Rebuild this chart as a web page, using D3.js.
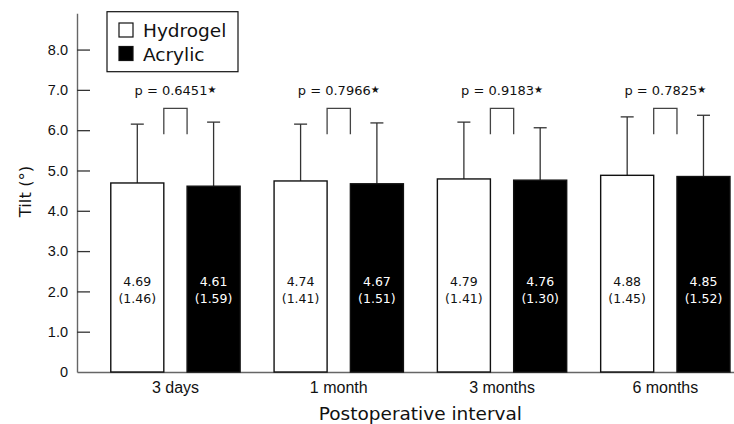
<!DOCTYPE html>
<html>
<head>
<meta charset="utf-8">
<script src="https://cdn.jsdelivr.net/npm/d3@7"></script>
<style>
  html, body { margin: 0; padding: 0; background: #fff; }
  svg { display: block; font-family: "DejaVu Sans", sans-serif; }
  .axis .domain { stroke: #666; stroke-width: 1.4; }
  .axis .tick line { stroke: #333; stroke-width: 1.3; }
  .axis .tick text { fill: #111; }
</style>
</head>
<body>
<svg id="chart" width="734" height="424"></svg>
<script>
// Valores (media y desviación estándar por intervalo)
const intervals = ['3 days', '1 month', '3 months', '6 months'];
const lenses = ['Hydrogel', 'Acrylic'];
const hydrogelMean = [4.69, 4.74, 4.79, 4.88];
const hydrogelSD = [1.46, 1.41, 1.41, 1.45];
const acrylicMean = [4.61, 4.67, 4.76, 4.85];
const acrylicSD = [1.59, 1.51, 1.30, 1.52];
const pValues = ['0.6451', '0.7966', '0.9183', '0.7825'];
const yTicks = [0, 1, 2, 3, 4, 5, 6, 7, 8];

const svg = d3.select('#chart');
const width = 734;
const axisLeftX = 77;
const baseY = 372;

const y = d3.scaleLinear().domain([0, 8.9]).range([baseY, 13.3]);

const x0 = d3.scaleBand()
  .domain(intervals)
  .range([axisLeftX, width])
  .paddingInner(0.208)
  .paddingOuter(0.1157)
  .align(0.894);

const x1 = d3.scaleBand()
  .domain(lenses)
  .range([0, x0.bandwidth()])
  .paddingInner(0.305)
  .paddingOuter(0);

const rows = intervals.map((interval, i) => ({
  interval,
  p: pValues[i],
  bars: [
    { lens: 'Hydrogel', mean: hydrogelMean[i], sd: hydrogelSD[i] },
    { lens: 'Acrylic', mean: acrylicMean[i], sd: acrylicSD[i] }
  ]
}));

const fill = { Hydrogel: '#fff', Acrylic: '#000' };
const labelColor = { Hydrogel: '#111', Acrylic: '#fff' };

// ejes
svg.append('g')
  .attr('class', 'axis')
  .attr('transform', `translate(0,${baseY})`)
  .call(d3.axisBottom(x0).tickSize(0).tickPadding(9))
  .call((g) => g.selectAll('.tick text').attr('font-size', 16).attr('dy', '0.72em'));

svg.append('g')
  .attr('class', 'axis')
  .attr('transform', `translate(${axisLeftX},0)`)
  .call(d3.axisLeft(y).tickValues(yTicks).tickSize(-13).tickSizeOuter(0).tickPadding(9)
    .tickFormat((d) => (d === 0 ? '0' : d3.format('.1f')(d))))
  .call((g) => g.selectAll('.tick text').attr('font-size', 14.5))
  .call((g) => g.selectAll('.tick').filter((d) => d === 0).select('line').remove());

const groups = svg.append('g')
  .selectAll('g.group')
  .data(rows)
  .join('g')
  .attr('class', 'group')
  .attr('transform', (d) => `translate(${x0(d.interval)},0)`);

// barras de desviación (detrás de las barras)
groups.selectAll('g.err')
  .data((d) => d.bars)
  .join('g')
  .attr('class', 'err')
  .each(function (d) {
    const g = d3.select(this);
    const cx = x1(d.lens) + x1.bandwidth() / 2;
    g.append('line')
      .attr('x1', cx).attr('x2', cx)
      .attr('y1', y(d.mean)).attr('y2', y(d.mean + d.sd))
      .attr('stroke', '#333').attr('stroke-width', 1.3);
    g.append('line')
      .attr('x1', cx - 6.5).attr('x2', cx + 6.5)
      .attr('y1', y(d.mean + d.sd)).attr('y2', y(d.mean + d.sd))
      .attr('stroke', '#333').attr('stroke-width', 1.3);
  });

groups.selectAll('rect')
  .data((d) => d.bars)
  .join('rect')
  .attr('x', (d) => x1(d.lens))
  .attr('width', x1.bandwidth())
  .attr('y', (d) => y(d.mean))
  .attr('height', (d) => y(0) - y(d.mean))
  .attr('fill', (d) => fill[d.lens])
  .attr('stroke', '#111')
  .attr('stroke-width', 1.4);

// media y (DE) dentro de cada barra
groups.selectAll('text.val')
  .data((d) => d.bars)
  .join('text')
  .attr('class', 'val')
  .attr('text-anchor', 'middle')
  .attr('font-size', 12.5)
  .attr('fill', (d) => labelColor[d.lens])
  .each(function (d) {
    const t = d3.select(this);
    const cx = x1(d.lens) + x1.bandwidth() / 2;
    t.append('tspan').attr('x', cx).attr('y', 286).text(d.mean.toFixed(2));
    t.append('tspan').attr('x', cx).attr('y', 302.5).text(`(${d.sd.toFixed(2)})`);
  });

// corchete de comparación y valor p
const bracketTop = 108.3;
const bracketBottom = 134.3;
groups.append('path')
  .attr('d', () => {
    const a = x1('Hydrogel') + x1.bandwidth();
    const b = x1('Acrylic');
    return `M${a},${bracketBottom}V${bracketTop}H${b}V${bracketBottom}`;
  })
  .attr('fill', 'none')
  .attr('stroke', '#444')
  .attr('stroke-width', 1.3);

const pText = groups.append('text')
  .attr('x', x0.bandwidth() / 2)
  .attr('y', 95)
  .attr('text-anchor', 'middle')
  .attr('font-size', 13)
  .attr('fill', '#111');
pText.append('tspan').text((d) => `p = ${d.p}`);
pText.append('tspan').attr('font-size', 10).attr('dy', -2).text('\u2605');

// leyenda
const legend = svg.append('g');
legend.append('rect')
  .attr('x', 107).attr('y', 11.7).attr('width', 131).attr('height', 60)
  .attr('fill', '#fff').attr('stroke', '#111').attr('stroke-width', 1.2);
legend.selectAll('g.item')
  .data(lenses)
  .join('g')
  .attr('class', 'item')
  .attr('transform', (d, i) => `translate(119,${23 + i * 23.5})`)
  .each(function (d) {
    const g = d3.select(this);
    g.append('rect').attr('width', 14).attr('height', 14)
      .attr('fill', fill[d]).attr('stroke', '#111').attr('stroke-width', 1.2);
    g.append('text').attr('x', 24).attr('y', 14.3).attr('font-size', 18.5).attr('fill', '#111').text(d);
  });

// títulos de ejes
const barsLeft = x0(intervals[0]);
const barsRight = x0(intervals[intervals.length - 1]) + x0.bandwidth();
svg.append('text')
  .attr('x', (barsLeft + barsRight) / 2)
  .attr('y', 420)
  .attr('text-anchor', 'middle')
  .attr('font-size', 18.5)
  .attr('fill', '#111')
  .text('Postoperative interval');

svg.append('text')
  .attr('transform', `translate(31,${191.5}) rotate(-90)`)
  .attr('text-anchor', 'middle')
  .attr('font-size', 16.5)
  .attr('fill', '#111')
  .text('Tilt (°)');
</script>
</body>
</html>
